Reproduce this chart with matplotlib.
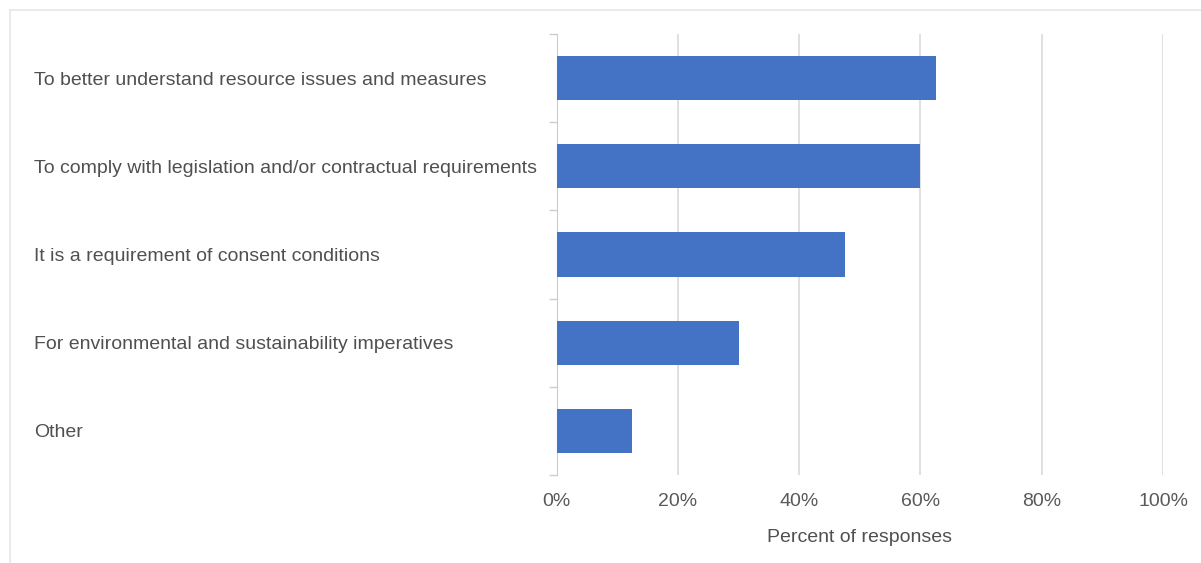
import matplotlib
matplotlib.use("Agg")
import matplotlib.pyplot as plt
from matplotlib.lines import Line2D
from matplotlib.ticker import FixedLocator

plt.rcParams['font.family'] = ['Liberation Sans', 'DejaVu Sans']

categories = [
    "To better understand resource issues and measures",
    "To comply with legislation and/or contractual requirements",
    "It is a requirement of consent conditions",
    "For environmental and sustainability imperatives",
    "Other",
]
values = [62.5, 60.0, 47.5, 30.0, 12.5]
xticks = [0, 20, 40, 60, 80, 100]

W, H = 1201, 563
fig = plt.figure(figsize=(W / 100, H / 100), dpi=100)
ax = fig.add_axes([556.7 / W, 1 - 475 / H, (1163 - 556.7) / W, (475 - 34) / H])

ypos = list(range(len(categories)))
ax.barh(ypos, values, height=0.5, color='#4472C4', zorder=3)
ax.set_ylim(len(categories) - 0.5, -0.5)
ax.set_xlim(0, 100)

ax.set_xticks(xticks)
ax.set_xticklabels([f"{t}%" for t in xticks], color='#595959', fontsize=14)
ax.tick_params(axis='x', length=0, pad=13)
ax.grid(axis='x', color='#e0e0e0', linewidth=1.4, zorder=0)

ax.set_yticks(ypos)
ax.set_yticklabels(categories, fontsize=14, color='#505050', ha='left')
ax.tick_params(axis='y', which='major', length=0, pad=(556.7 - 34) * 0.72)
ax.yaxis.set_minor_locator(FixedLocator([i - 0.5 for i in range(len(categories) + 1)]))
ax.tick_params(axis='y', which='minor', length=6, color='#cccccc', width=1)

for s in ['top', 'right', 'bottom']:
    ax.spines[s].set_visible(False)
ax.spines['left'].set_color('#cccccc')

ax.set_xlabel("Percent of responses", fontsize=14, color='#505050', labelpad=14)

# outer frame lines
fig.add_artist(Line2D([10 / W, 1], [1 - 10 / H, 1 - 10 / H], color='#e6e6e6', lw=1.2))
fig.add_artist(Line2D([10 / W, 10 / W], [0, 1 - 10 / H], color='#e6e6e6', lw=1.2))

fig.savefig("out.png", dpi=100)
